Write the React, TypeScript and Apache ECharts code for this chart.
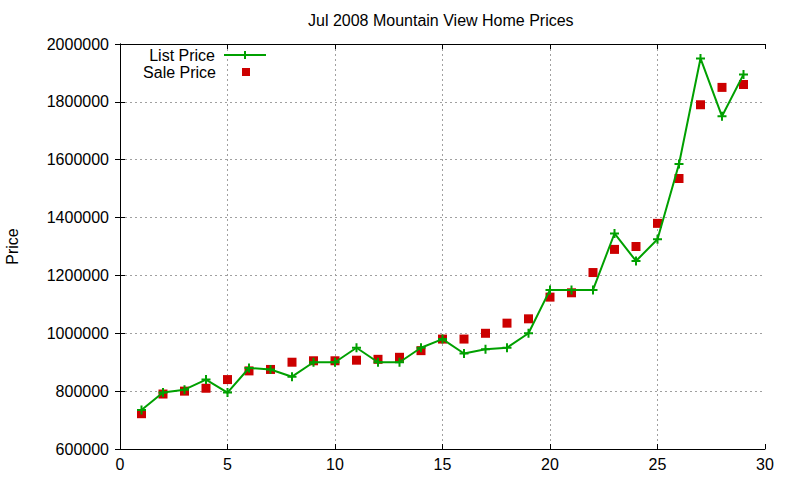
import React, { useEffect, useRef } from "react";
import * as echarts from "echarts";

// day of month (x axis)
const days = [1, 2, 3, 4, 5, 6, 7, 8, 9, 10, 11, 12, 13, 14, 15, 16, 17, 18, 19, 20, 21, 22, 23, 24, 25, 26, 27, 28, 29];

const listPrice = [
  735000, 795000, 805000, 840000, 795000, 880000, 875000, 850000, 900000, 900000,
  950000, 900000, 900000, 950000, 980000, 930000, 945000, 950000, 1000000, 1150000,
  1150000, 1150000, 1345000, 1250000, 1325000, 1585000, 1950000, 1750000, 1895000,
];

const salePrice = [
  722000, 790000, 800000, 810000, 840000, 870000, 875000, 900000, 905000, 905000,
  907000, 910000, 917000, 940000, 980000, 980000, 1000000, 1035000, 1050000, 1125000,
  1140000, 1210000, 1290000, 1300000, 1380000, 1535000, 1790000, 1850000, 1860000,
];

const GREEN = "#00a000";
const RED = "#cc0000";
const FONT = "Liberation Sans";
const PLUS = "path://M0,5L10,5M5,0L5,10";

export default function App() {
  const chartRef = useRef<HTMLDivElement>(null);

  useEffect(() => {
    if (!chartRef.current) return;
    const chart = echarts.init(chartRef.current, null, { renderer: "svg" });

    const tick = { show: true, inside: true, length: 5, lineStyle: { color: "#000", width: 1 } };
    const grid = { type: [2, 3], color: "#a0a0a0", width: 1 };

    chart.setOption({
      animation: false,
      backgroundColor: "#fff",
      textStyle: { fontFamily: FONT },
      title: {
        text: "Jul 2008 Mountain View Home Prices",
        left: 308,
        top: 12,
        padding: 0,
        textStyle: { fontFamily: FONT, fontSize: 16, fontWeight: "normal", color: "#000" },
      },
      legend: [
        {
          data: ["List Price"],
          right: 533,
          top: 47,
          padding: 0,
          align: "right",
          itemWidth: 42,
          itemHeight: 10,
          textStyle: { fontFamily: FONT, fontSize: 16, color: "#000", padding: [0, 4, 0, 0] },
          itemStyle: { color: GREEN, borderColor: GREEN, borderWidth: 2 },
          lineStyle: { color: GREEN, width: 2 },
        },
        {
          data: [{ name: "Sale Price", icon: "rect" }],
          right: 550,
          top: 64,
          padding: 0,
          align: "right",
          itemWidth: 8,
          itemHeight: 8,
          textStyle: { fontFamily: FONT, fontSize: 16, color: "#000", padding: [0, 21, 0, 0] },
          itemStyle: { color: RED, borderWidth: 0 },
        },
      ],
      grid: { left: 120, right: 35, top: 44, bottom: 31, outerBoundsMode: "none", containLabel: false },
      xAxis: [
        {
          type: "value",
          min: 0,
          max: 30,
          interval: 5,
          axisLine: { show: true, lineStyle: { color: "#000", width: 1 } },
          axisTick: tick,
          axisLabel: { color: "#000", fontSize: 16, fontFamily: FONT, margin: 7 },
          splitLine: { show: true, showMinLine: false, showMaxLine: false, lineStyle: grid },
        },
        {
          type: "value",
          position: "top",
          min: 0,
          max: 30,
          interval: 5,
          axisLine: { show: true, lineStyle: { color: "#000", width: 1 } },
          axisTick: tick,
          axisLabel: { show: false },
          splitLine: { show: false },
        },
      ],
      yAxis: [
        {
          type: "value",
          min: 600000,
          max: 2000000,
          interval: 200000,
          name: "Price",
          nameLocation: "middle",
          nameGap: 100,
          nameTextStyle: { fontFamily: FONT, fontSize: 16, color: "#000" },
          axisLine: { show: true, lineStyle: { color: "#000", width: 1 } },
          axisTick: tick,
          axisLabel: {
            color: "#000",
            fontSize: 16,
            fontFamily: FONT,
            margin: 11,
            formatter: (v: number) => String(v),
          },
          splitLine: { show: true, showMinLine: false, showMaxLine: false, lineStyle: grid },
        },
        {
          type: "value",
          position: "right",
          min: 600000,
          max: 2000000,
          interval: 200000,
          axisLine: { show: true, lineStyle: { color: "#000", width: 1 } },
          axisTick: tick,
          axisLabel: { show: false },
          splitLine: { show: false },
        },
      ],
      series: [
        {
          name: "List Price",
          type: "line",
          data: days.map((d, i) => [d, listPrice[i]]),
          symbol: PLUS,
          symbolSize: 9,
          showAllSymbol: true,
          lineStyle: { color: GREEN, width: 2 },
          itemStyle: { color: GREEN, borderColor: GREEN, borderWidth: 2 },
        },
        {
          name: "Sale Price",
          type: "scatter",
          data: days.map((d, i) => [d, salePrice[i]]),
          symbol: "rect",
          symbolSize: 9,
          itemStyle: { color: RED, opacity: 1 },
        },
      ],
    });

    return () => chart.dispose();
  }, []);

  return (
    <div
      ref={chartRef}
      style={{ position: "fixed", left: 0, top: 0, width: 800, height: 480 }}
    />
  );
}
